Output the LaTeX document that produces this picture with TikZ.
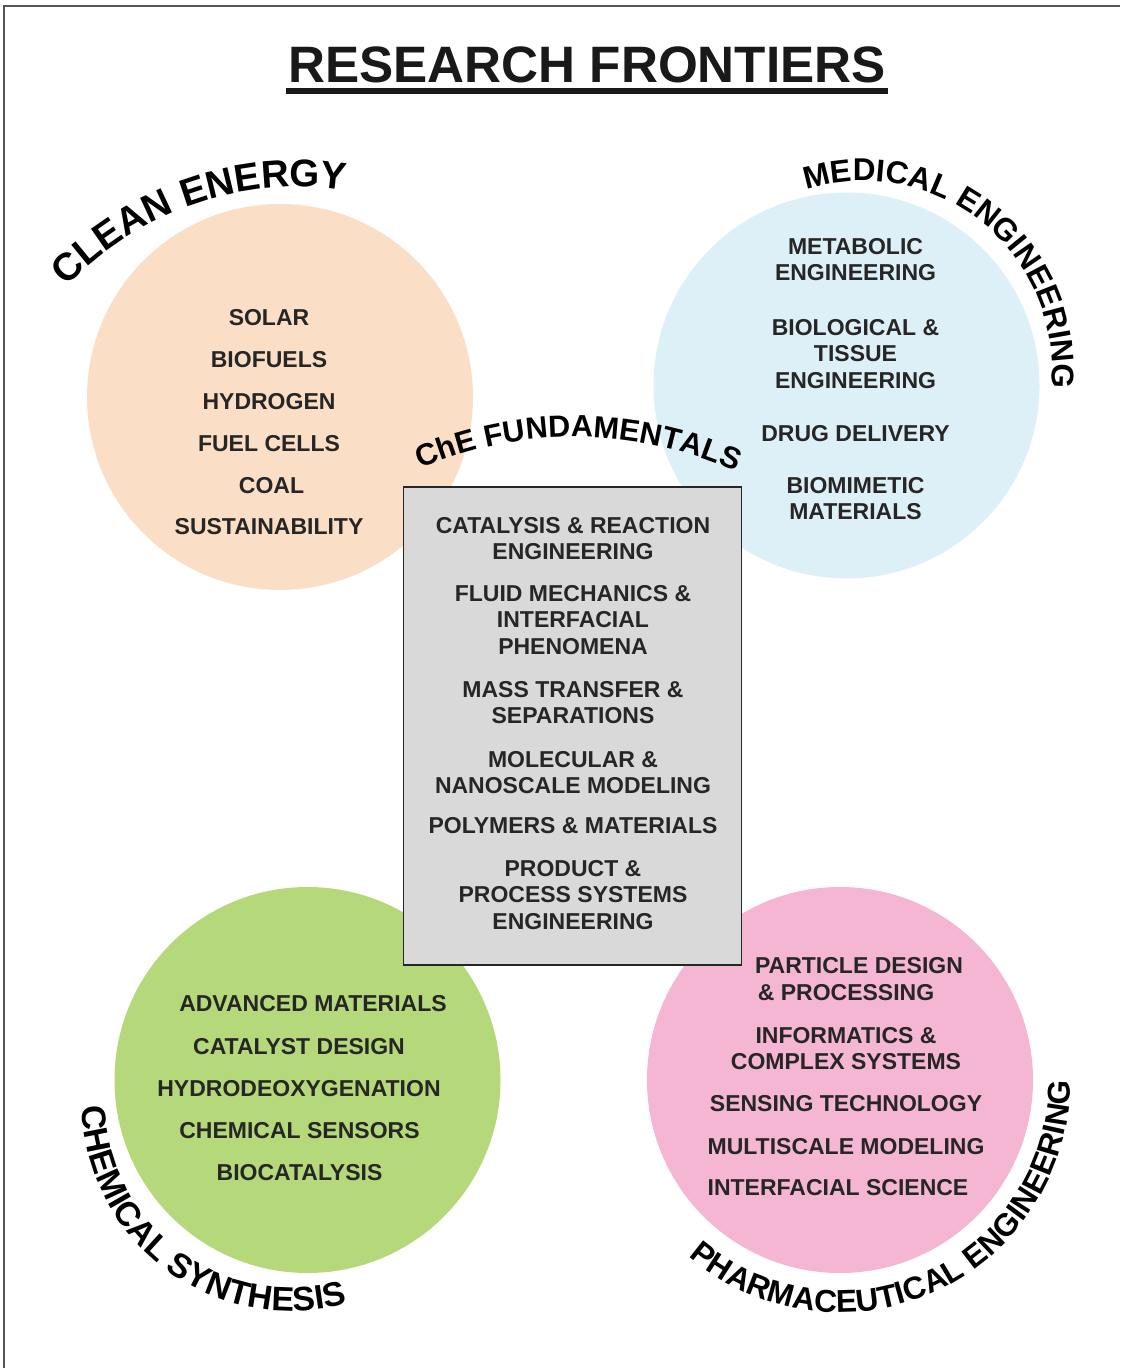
\documentclass[tikz,border=0pt]{standalone}
\usepackage{fontspec}
\setmainfont{Liberation Sans}
\usepackage{tikz}
\usetikzlibrary{decorations.text}
\definecolor{cpeach}{RGB}{251,222,198}
\definecolor{mblue}{RGB}{222,240,247}
\definecolor{cgreen}{RGB}{181,216,122}
\definecolor{cpink}{RGB}{244,182,210}
\definecolor{fundgray}{RGB}{217,217,217}
\definecolor{ink}{RGB}{38,38,38}
\definecolor{framegray}{RGB}{85,85,85}
\tikzset{topic/.style = {font=\fontsize{11.5}{13.25}\selectfont\bfseries,
                         text=ink, align=center, inner sep=0, anchor=north},
         arclabel/.style = {decorate, decoration={text along path, text align=center,
                                                  text={#1}}}}

\begin{document}
\begin{tikzpicture}[x=0.5pt, y=-0.5pt]
    \useasboundingbox (0,0) rectangle (1120,1368);
    \draw [framegray, line width=1pt] (3.5,1368) -- (3.5,6) -- (1120,6);

    \node [anchor=base, inner sep=0, text=black!90,
           font=\fontsize{25.6}{30}\selectfont\bfseries] (title) at (587,83) {RESEARCH FRONTIERS};
    \draw [black!90, line width=3pt] (286,91) -- (888,91);

    \fill [cpeach] (280,397) circle [radius=193];
    \fill [mblue] (846.5,385.5) circle [radius=193];
    \fill [cgreen] (307.5,1080) circle [radius=193];
    \fill [cpink] (840,1080) circle [radius=193];
    \draw [fill=fundgray, draw=ink, line width=0.8pt] (403.5,487) rectangle (741.5,965);

    \node [topic] (solar) at (269,309) {SOLAR};
    \node [topic] (biofuels) at (269,351) {BIOFUELS};
    \node [topic] (hydrogen) at (269,393) {HYDROGEN};
    \node [topic] (fuelcells) at (269,435) {FUEL CELLS};
    \node [topic] (coal) at (271.5,477) {COAL};
    \node [topic] (sustain) at (269,518) {SUSTAINABILITY};

    \node [topic] (metabolic) at (855.5,238) {METABOLIC\\ENGINEERING};
    \node [topic] (tissue) at (855.5,319) {BIOLOGICAL \&\\TISSUE\\ENGINEERING};
    \node [topic] (drug) at (855.5,425) {DRUG DELIVERY};
    \node [topic] (biomimetic) at (855.5,477) {BIOMIMETIC\\MATERIALS};

    \node [topic] (catalysis) at (573,517) {CATALYSIS \& REACTION\\ENGINEERING};
    \node [topic] (fluid) at (573,585) {FLUID MECHANICS \&\\INTERFACIAL\\PHENOMENA};
    \node [topic] (mass) at (573,681) {MASS TRANSFER \&\\SEPARATIONS};
    \node [topic] (molecular) at (573,751) {MOLECULAR \&\\NANOSCALE MODELING};
    \node [topic] (polymers) at (573,817) {POLYMERS \& MATERIALS};
    \node [topic] (product) at (573,860) {PRODUCT \&\\PROCESS SYSTEMS\\ENGINEERING};

    \node [topic] (advanced) at (313,995) {ADVANCED MATERIALS};
    \node [topic] (catdesign) at (299,1038) {CATALYST DESIGN};
    \node [topic] (hdo) at (299,1080) {HYDRODEOXYGENATION};
    \node [topic] (sensors) at (299.5,1122) {CHEMICAL SENSORS};
    \node [topic] (biocat) at (299.5,1164) {BIOCATALYSIS};

    \node [topic] (particle) at (859,957) {PARTICLE DESIGN};
    \node [topic] (processing) at (846,984) {\& PROCESSING};
    \node [topic] (informatics) at (846,1027) {INFORMATICS \&\\COMPLEX SYSTEMS};
    \node [topic] (sensing) at (846,1095) {SENSING TECHNOLOGY};
    \node [topic] (multiscale) at (846,1138) {MULTISCALE MODELING};
    \node [topic] (interfacial) at (838,1179) {INTERFACIAL SCIENCE};

    \path [arclabel={|\fontsize{19.3}{24}\selectfont\bfseries|CLEAN ENERGY}]
        (299,509) ++(221:322) arc [start angle=221, end angle=281, radius=322];
    \path [arclabel={|\fontsize{15.75}{18}\selectfont\bfseries|MEDICAL ENGINEERING}]
        (864,369) ++(249:188) arc [start angle=249, end angle=369, radius=188];
    \path [arclabel={|\fontsize{15.3}{18}\selectfont\bfseries|ChE FUNDAMENTALS}]
        (575,826) ++(244.5:389) arc [start angle=244.5, end angle=296.5, radius=389];
    \path [arclabel={|\fontsize{17}{18}\selectfont\bfseries|CHEMICAL SYNTHESIS}]
        (291,1102) ++(183:209) arc [start angle=183, end angle=70, radius=209];
    \path [arclabel={|\fontsize{15.8}{18}\selectfont\bfseries|PHARMACEUTICAL ENGINEERING}]
        (839.5,1081.6) ++(135.3:231) arc [start angle=135.3, end angle=-4.7, radius=231];
\end{tikzpicture}
\end{document}
